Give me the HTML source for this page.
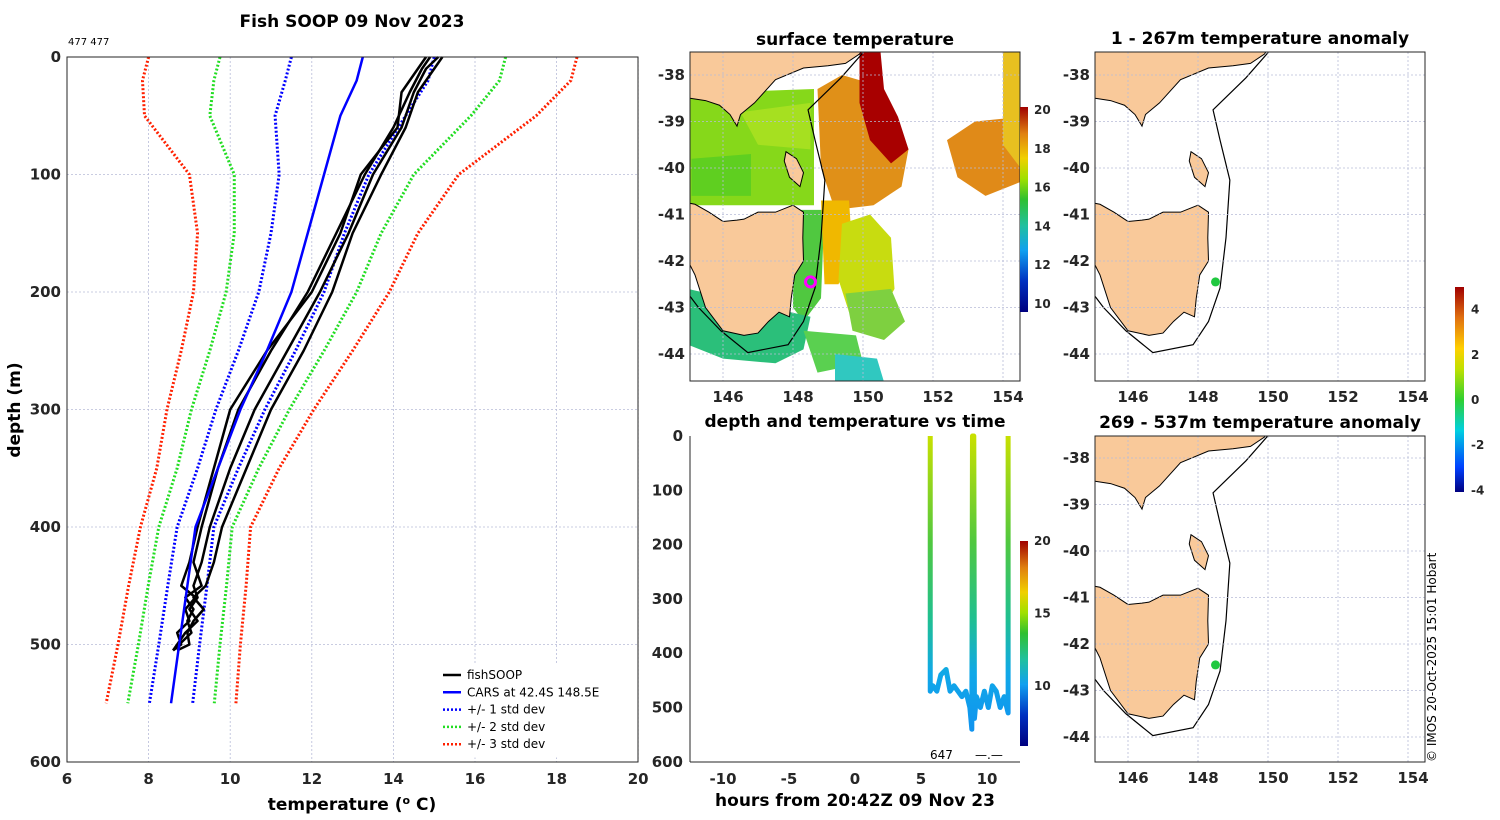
<!DOCTYPE html>
<html><head><meta charset="utf-8"><style>
html,body{margin:0;padding:0;background:#fff;width:1500px;height:820px;overflow:hidden}
svg{font-family:"DejaVu Sans","Liberation Sans",sans-serif}
.tk{font-size:15px;font-weight:bold;fill:#262626}
.ttl{font-size:17px;font-weight:bold;fill:#000}
.grid{stroke:#b8bcd8;stroke-width:0.8;stroke-dasharray:2,2}
</style></head><body>
<svg id="fig" width="1500" height="820" viewBox="0 0 1500 820">
<defs>
<linearGradient id="sstcb" x1="0" y1="1" x2="0" y2="0">
<stop offset="0" stop-color="#00007f"/><stop offset="0.15" stop-color="#0030c0"/><stop offset="0.3" stop-color="#10a0f0"/><stop offset="0.42" stop-color="#20c0a0"/><stop offset="0.55" stop-color="#30c030"/><stop offset="0.65" stop-color="#a0e000"/><stop offset="0.75" stop-color="#f0d000"/><stop offset="0.87" stop-color="#e08010"/><stop offset="1" stop-color="#a00000"/></linearGradient>
<linearGradient id="anocb" x1="0" y1="1" x2="0" y2="0">
<stop offset="0" stop-color="#00007f"/><stop offset="0.12" stop-color="#0040ff"/><stop offset="0.3" stop-color="#00d0e0"/><stop offset="0.45" stop-color="#30d030"/><stop offset="0.6" stop-color="#c0e000"/><stop offset="0.7" stop-color="#ffd000"/><stop offset="0.85" stop-color="#e07010"/><stop offset="1" stop-color="#a00000"/></linearGradient>
<linearGradient id="yoyo" gradientUnits="userSpaceOnUse" x1="0" y1="436" x2="0" y2="740">
<stop offset="0" stop-color="#c8e000"/><stop offset="0.35" stop-color="#50c840"/><stop offset="0.6" stop-color="#20c090"/><stop offset="0.78" stop-color="#10a8e8"/><stop offset="1" stop-color="#1090f0"/></linearGradient>
<clipPath id="cMid"><rect x="690" y="52" width="330" height="329"/></clipPath>
<clipPath id="cR1"><rect x="1095" y="52" width="330" height="329"/></clipPath>
<clipPath id="cR2"><rect x="1095" y="436" width="330" height="326"/></clipPath>
</defs>
<g id="root"></g>
</svg>
<script>
// ---------- Left profile data ----------
const carsDepth = [0,20,50,100,150,200,250,300,350,400,450,500,550];
const carsTemp  = [13.25,13.1,12.7,12.3,11.9,11.5,10.9,10.25,9.7,9.15,8.95,8.75,8.55];
const carsStd   = [1.75,1.75,1.6,1.1,0.9,0.8,0.7,0.6,0.5,0.45,0.48,0.5,0.53];
const fishDepth = [0,10,30,60,100,150,200,250,300,350,400,430,450,460,470,480,490,500,505];
const fishT1 = [15.1,14.8,14.5,14.2,13.5,12.9,12.2,11.4,10.6,10.0,9.5,9.3,9.1,9.2,9.0,9.2,8.9,8.7,8.6];
const fishT2 = [14.9,14.7,14.4,14.0,13.3,12.6,11.9,11.0,10.2,9.7,9.3,9.1,9.3,8.9,9.1,8.95,9.05,8.75,8.6];
const fishT3 = [15.2,15.0,14.6,14.3,13.7,13.0,12.5,11.8,11.0,10.4,9.8,9.6,9.4,9.1,9.35,9.1,8.95,9.0,8.7];
const fishT4 = [14.8,14.6,14.2,14.1,13.2,12.7,12.0,10.9,10.0,9.6,9.2,9.0,8.8,9.15,8.9,9.0,8.7,8.8,8.6];
const tempTicks = [6,8,10,12,14,16,18,20];
const depthTicks = [0,100,200,300,400,500,600];
// ---------- depth vs time ----------
const yoTime  = [5.7,5.7,5.9,6.2,6.5,6.9,7.2,7.5,7.8,8.1,8.4,8.7,8.85,8.9,9.0,9.05,9.2,9.5,9.8,10.1,10.4,10.7,11.0,11.3,11.5,11.6,11.6];
const yoDepth = [0,470,460,470,440,430,470,460,470,480,470,500,540,0,0,520,480,500,470,500,460,470,500,480,500,510,0];
const hourTicks = [-10,-5,0,5,10];
const dtDepthTicks = [0,100,200,300,400,500,600];
const sstTicks = [10,12,14,16,18,20];
const dtCbTicks = [10,15,20];
const anoTicks = [-4,-2,0,2,4];
const lonTicks = [146,148,150,152,154];
const latTicks = [-38,-39,-40,-41,-42,-43,-44];
const profilePos = [148.5,-42.45];

const NS="http://www.w3.org/2000/svg";
const root=document.getElementById('root');
function el(tag,attrs,parent,txt){const e=document.createElementNS(NS,tag);for(const k in attrs)e.setAttribute(k,attrs[k]);if(txt!==undefined)e.textContent=txt;(parent||root).appendChild(e);return e;}

// ===== Left chart =====
const X=t=>67+(t-6)*40.8, Y=d=>57+d*1.175;
const gL=el('g',{});


tempTicks.forEach(t=>{el('line',{x1:X(t),x2:X(t),y1:57,y2:762,class:'grid'},gL);});
depthTicks.forEach(d=>{el('line',{x1:67,x2:638,y1:Y(d),y2:Y(d),class:'grid'},gL);});
function pl(ts,ds,attrs,name){const p=el('polyline',Object.assign({points:ts.map((t,i)=>X(t)+','+Y(ds[i])).join(' '),fill:'none'},attrs),gL);

return p;}
const stdCols=['#0000ff','#22dd22','#ff2000'];
[1,2,3].forEach(k=>{
 pl(carsTemp.map((t,i)=>t-k*carsStd[i]),carsDepth,{stroke:stdCols[k-1],'stroke-width':3,'stroke-dasharray':'2,2','stroke-linejoin':'round'},'std-minus-'+k);
 pl(carsTemp.map((t,i)=>t+k*carsStd[i]),carsDepth,{stroke:stdCols[k-1],'stroke-width':3,'stroke-dasharray':'2,2','stroke-linejoin':'round'},'std-plus-'+k);
});
[fishT1,fishT2,fishT3,fishT4].forEach((f,i)=>pl(f,fishDepth,{stroke:'#000','stroke-width':2.5,'stroke-linejoin':'round'},'fishsoop-profile-'+(i+1)));
pl(carsTemp,carsDepth,{stroke:'#0000ff','stroke-width':2.5},'cars-profile');
el('rect',{x:67,y:57,width:571,height:705,fill:'none',stroke:'#262626','stroke-width':1},gL);
tempTicks.forEach(t=>{el('text',{x:X(t),y:784,'text-anchor':'middle',class:'tk'},gL,t);});
depthTicks.forEach(d=>{el('text',{x:61,y:Y(d)+5,'text-anchor':'end',class:'tk'},gL,d);});
el('text',{x:352,y:27,'text-anchor':'middle',class:'ttl'},gL,'Fish SOOP 09 Nov 2023');
el('text',{x:68,y:45,'font-size':'10',fill:'#000'},gL,'477 477');
const xl=el('text',{x:352,y:810,'text-anchor':'middle',class:'ttl',fill:'#262626'},gL);

xl.innerHTML='temperature (<tspan dy="-6" font-size="11">o</tspan><tspan dy="6"> C)</tspan>';
const yl=el('text',{x:0,y:0,transform:'translate(20,410) rotate(-90)','text-anchor':'middle',class:'ttl',fill:'#262626'},gL,'depth (m)');

// legend
const lg=el('g',{});


el('rect',{x:438,y:665,width:192,height:92,fill:'#fff',stroke:'#fff'},lg);
[['fishSOOP','#000',''],['CARS at 42.4S 148.5E','#0000ff',''],['+/- 1 std dev','#0000ff','2,2'],['+/- 2 std dev','#22dd22','2,2'],['+/- 3 std dev','#ff2000','2,2']].forEach((e,i)=>{
 const y=675+i*17.3;
 el('line',{x1:443,x2:461,y1:y,y2:y,stroke:e[1],'stroke-width':2.5,'stroke-dasharray':e[2]},lg);
 el('text',{x:467,y:y+4,'font-size':'12',fill:'#000'},lg,e[0]);
});

// ===== map helpers =====
function mapProj(x0,lon0,y0,lat0){return (lo,la)=>[x0+(lo-lon0)*35,y0+(lat0-la)*46.5];}
const tas=[[144.65,-40.7],[145.2,-40.78],[145.6,-40.95],[146.0,-41.15],[146.4,-41.12],[146.6,-41.1],[147.0,-40.95],[147.5,-40.95],[148.0,-40.8],[148.3,-40.95],[148.28,-41.5],[148.3,-42.0],[148.05,-42.3],[147.95,-42.8],[147.9,-43.2],[147.6,-43.1],[147.3,-43.3],[147.0,-43.55],[146.6,-43.6],[146.0,-43.5],[145.5,-43.0],[145.2,-42.3],[144.8,-41.7],[144.65,-41.0]];
const mainland=[[144.5,-38.45],[145.06,-38.5],[145.5,-38.55],[145.9,-38.65],[146.2,-38.85],[146.4,-39.1],[146.5,-38.85],[146.9,-38.6],[147.5,-38.1],[148.3,-37.85],[149.0,-37.8],[149.5,-37.75],[149.9,-37.55],[150.1,-37.3],[144.5,-37.3]];
const flinders=[[147.8,-39.65],[148.1,-39.8],[148.3,-40.1],[148.2,-40.4],[147.9,-40.2],[147.75,-39.85]];
const shelf=[[150.14,-37.4],[149.37,-38.06],[148.43,-38.75],[148.63,-39.4],[148.91,-40.26],[148.8,-41.5],[148.63,-42.58],[148.3,-43.3],[147.86,-43.8],[146.71,-43.97],[145.94,-43.5],[145.3,-43.0],[144.8,-42.5]];
function poly(P,pts,attrs,g,name){const p=el('polygon',Object.assign({points:pts.map(q=>P(q[0],q[1]).join(',')).join(' ')},attrs),g);return p;}
function pline(P,pts,attrs,g,name){const p=el('polyline',Object.assign({points:pts.map(q=>P(q[0],q[1]).join(',')).join(' '),fill:'none'},attrs),g);return p;}
function mapFrame(P,x,y,w,h,g){
 lonTicks.forEach(lo=>{const px=P(lo,-40)[0];el('line',{x1:px,x2:px,y1:y,y2:y+h,class:'grid'},g);el('text',{x:px+5,y:y+h+21,'text-anchor':'middle',class:'tk'},g,lo);});
 latTicks.forEach(la=>{const py=P(146,la)[1];if(py<y||py>y+h)return;el('line',{x1:x,x2:x+w,y1:py,y2:py,class:'grid'},g);el('text',{x:x-5,y:py+5,'text-anchor':'end',class:'tk'},g,la);});
 el('rect',{x:x,y:y,width:w,height:h,fill:'none',stroke:'#262626'},g);
}

// ===== SST map =====
const PM=mapProj(723,146,75,-38);
const gM=el('g',{});


const gMc=el('g',{'clip-path':'url(#cMid)'},gM);
const blobs=[
 ['#86d81a',[[144.9,-38.4],[148.6,-38.3],[148.6,-40.8],[144.9,-40.8]]],
 ['#a6e020',[[146.5,-38.8],[148.5,-38.6],[148.5,-39.6],[147.0,-39.5]]],
 ['#5fcf20',[[145.1,-39.8],[146.8,-39.7],[146.8,-40.6],[145.1,-40.6]]],
 ['#50c840',[[148.0,-40.9],[148.9,-40.9],[148.8,-42.8],[148.3,-43.3],[148.0,-43.0]]],
 ['#2bbf7a',[[145.0,-42.6],[148.5,-43.2],[148.3,-43.9],[147.5,-44.2],[146.0,-44.1],[145.0,-43.8]]],
 ['#e09018',[[148.7,-38.3],[149.4,-38.0],[150.3,-38.2],[151.0,-39.0],[151.3,-39.6],[151.1,-40.4],[150.3,-40.8],[149.2,-40.9],[148.8,-40.0]]],
 ['#a80000',[[149.9,-37.5],[150.5,-37.5],[150.6,-38.3],[151.0,-38.9],[151.3,-39.6],[150.8,-39.9],[150.2,-39.4],[149.9,-38.6]]],
 ['#f0b800',[[148.8,-40.7],[149.6,-40.7],[149.7,-41.8],[149.3,-42.5],[148.9,-42.5]]],
 ['#c8dc10',[[149.4,-41.2],[150.2,-41.0],[150.8,-41.5],[150.9,-42.6],[150.6,-43.0],[149.6,-43.1],[149.3,-42.4]]],
 ['#7ed040',[[149.5,-42.7],[150.8,-42.6],[151.2,-43.3],[150.6,-43.7],[149.7,-43.5]]],
 ['#e08a18',[[152.4,-39.4],[153.2,-39.0],[154.5,-38.9],[154.5,-40.3],[153.5,-40.6],[152.7,-40.2]]],
 ['#e8c020',[[154.0,-37.5],[154.5,-37.5],[154.5,-40.0],[154.0,-39.5]]],
 ['#5ad050',[[148.3,-43.5],[149.8,-43.6],[150.0,-44.2],[148.7,-44.4]]],
 ['#30c8c0',[[149.2,-44.0],[150.4,-44.1],[150.6,-44.6],[149.2,-44.6]]],
];
blobs.forEach((b,i)=>poly(PM,b[1],{fill:b[0]},gMc,'sst-patch-'+i));
poly(PM,mainland,{fill:'#f9c99a',stroke:'#000','stroke-width':1},gMc,'mainland');
poly(PM,tas,{fill:'#f9c99a',stroke:'#000','stroke-width':1},gMc,'tasmania');
poly(PM,flinders,{fill:'#f9c99a',stroke:'#000','stroke-width':1},gMc,'flinders-island');
pline(PM,shelf,{stroke:'#000','stroke-width':1.2},gMc,'shelf-contour');
const pm=PM(profilePos[0],profilePos[1]);
const mk=el('circle',{cx:pm[0],cy:pm[1],r:5,fill:'#20c040',stroke:'#ff00ff','stroke-width':3},gMc);

mapFrame(PM,690,52,330,329,gM);
el('text',{x:855,y:45,'text-anchor':'middle',class:'ttl'},gM,'surface temperature');
const cbY=v=>304-(v-10)*19.4;
el('rect',{x:1020,y:107,width:8,height:205,fill:'url(#sstcb)'},gM);
sstTicks.forEach(v=>{el('text',{x:1034,y:cbY(v)+4,'font-size':'12','font-weight':'bold',fill:'#262626'},gM,v);});

// ===== depth vs time =====
const H=h=>855+(h)*13.2, D=d=>436+d*0.543;
const gT=el('g',{});


hourTicks.forEach(h=>{el('text',{x:H(h),y:784,'text-anchor':'middle',class:'tk'},gT,h);});
dtDepthTicks.forEach(d=>{el('text',{x:683,y:D(d)+5,'text-anchor':'end',class:'tk'},gT,d);});
el('line',{x1:690,x2:1020,y1:762,y2:762,stroke:'#262626'},gT);
el('line',{x1:690,x2:690,y1:436,y2:762,stroke:'#262626'},gT);
const yo=el('polyline',{points:yoTime.map((t,i)=>H(t)+','+D(yoDepth[i])).join(' '),fill:'none',stroke:'url(#yoyo)','stroke-width':5,'stroke-linejoin':'round'},gT);

el('text',{x:855,y:427,'text-anchor':'middle',class:'ttl'},gT,'depth and temperature vs time');
el('text',{x:855,y:806,'text-anchor':'middle',class:'ttl',fill:'#262626'},gT,'hours from 20:42Z 09 Nov 23');
el('text',{x:930,y:759,'font-size':'12',fill:'#000'},gT,'647');
el('text',{x:975,y:759,'font-size':'12',fill:'#000'},gT,'—.—');
const dcY=v=>686-(v-10)*14.5;
el('rect',{x:1020,y:541,width:8,height:205,fill:'url(#sstcb)'},gT);
dtCbTicks.forEach(v=>{el('text',{x:1034,y:dcY(v)+4,'font-size':'12','font-weight':'bold',fill:'#262626'},gT,v);});

// ===== anomaly maps =====
function anomMap(y0,h,latY,clip,title,name){
 const P=mapProj(1128,146,latY,-38);
 const g=el('g',{});
 
 
 const gc=el('g',{'clip-path':'url(#'+clip+')'},g);
 poly(P,mainland,{fill:'#f9c99a',stroke:'#000','stroke-width':1},gc,'mainland');
 poly(P,tas,{fill:'#f9c99a',stroke:'#000','stroke-width':1},gc,'tasmania');
 poly(P,flinders,{fill:'#f9c99a',stroke:'#000','stroke-width':1},gc,'flinders-island');
 pline(P,shelf,{stroke:'#000','stroke-width':1.2},gc,'shelf-contour');
 const p=P(profilePos[0],profilePos[1]);
 const c=el('circle',{cx:p[0],cy:p[1],r:4.5,fill:'#20c840'},gc);
 
 mapFrame(P,1095,y0,330,h,g);
 el('text',{x:1260,y:y0-8,'text-anchor':'middle',class:'ttl'},g,title);
}
anomMap(52,329,75,'cR1','1 - 267m temperature anomaly','anomaly-map-upper');
anomMap(436,326,458,'cR2','269 - 537m temperature anomaly','anomaly-map-lower');
const aY=v=>400-v*22.6;
const gA=el('g',{});


el('rect',{x:1455,y:287,width:9,height:205,fill:'url(#anocb)'},gA);
anoTicks.forEach(v=>{el('text',{x:1471,y:aY(v)+4,'font-size':'12','font-weight':'bold',fill:'#262626'},gA,v);});
const cr=el('text',{x:0,y:0,transform:'translate(1436,762) rotate(-90)','font-size':'12',fill:'#000'},root,'© IMOS 20-Oct-2025 15:01 Hobart');

</script>
</body></html>
